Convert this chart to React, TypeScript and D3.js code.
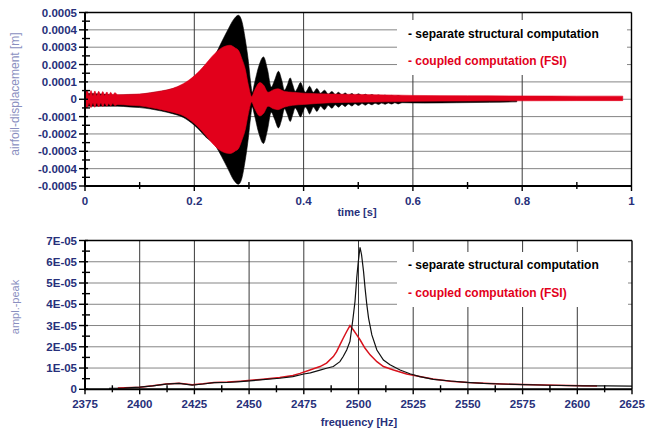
import React from "react";
import * as d3 from "d3";

// ---------- top panel: airfoil displacement envelope (values in 1e-5 m) ----------
const redTime = [0, 0.004, 0.0075, 0.011, 0.0145, 0.018, 0.0215, 0.025, 0.029, 0.0325, 0.036, 0.04, 0.0435, 0.047, 0.051, 0.0545, 0.06, 0.08, 0.10, 0.12, 0.14, 0.16, 0.18, 0.19, 0.20, 0.21, 0.22, 0.232, 0.25, 0.2655, 0.275, 0.2807, 0.287, 0.293, 0.299, 0.305, 0.31, 0.32, 0.327, 0.335, 0.345, 0.353, 0.365, 0.38, 0.40, 0.45, 0.5, 0.55, 0.6, 0.7, 0.8, 0.9, 0.984];
const redUpper = [4.2, 5.2, 2.0, 5.0, 2.0, 4.8, 2.0, 4.6, 2.1, 4.4, 2.2, 4.2, 2.3, 4.0, 2.4, 3.8, 2.6, 2.8, 3.0, 3.8, 4.8, 6.2, 9, 11, 13.5, 16.5, 20, 24.5, 29.6, 31.1, 29.5, 28.2, 23.4, 17.7, 8, 1.5, 5, 9.6, 8, 4, 5.5, 6, 4.5, 4, 3.5, 3, 2.8, 2.5, 2.2, 2.0, 1.9, 1.8, 1.8];
const redLower = [-4.4, -5.0, -2.1, -4.8, -2.1, -4.6, -2.1, -4.4, -2.2, -4.2, -2.3, -4.0, -2.4, -3.8, -2.5, -3.6, -3.0, -3.4, -3.8, -4.8, -6.0, -7.5, -9.5, -11.5, -14, -17, -20.5, -25, -30, -31.3, -29.8, -28.5, -23.6, -17.9, -8.2, -1.6, -5, -9.6, -8, -4, -5.5, -6, -4.5, -3.5, -3, -2, -1.7, -1.5, -1.2, -1.0, -0.9, -0.8, -0.8];

const blackTime = [0, 0.03, 0.06, 0.08, 0.10, 0.12, 0.14, 0.16, 0.18, 0.19, 0.20, 0.21, 0.22, 0.238, 0.25, 0.2625, 0.272, 0.2807, 0.287, 0.293, 0.299, 0.303, 0.306, 0.31, 0.318, 0.3266, 0.334, 0.3407, 0.347, 0.354, 0.36, 0.365, 0.37, 0.3755, 0.38, 0.3846, 0.389, 0.3944, 0.399, 0.403, 0.407, 0.4108, 0.418, 0.4243, 0.431, 0.4383, 0.445, 0.4518, 0.458, 0.4639, 0.470, 0.4762, 0.482, 0.4884, 0.494, 0.5005, 0.507, 0.5128, 0.519, 0.525, 0.531, 0.537, 0.543, 0.549, 0.555, 0.561, 0.567, 0.573, 0.58, 0.62, 0.68, 0.74, 0.79];
const blackUpper = [3.5, 3.0, 2.4, 2.6, 2.8, 3.6, 4.6, 6.0, 8.5, 10.5, 13, 16, 19.5, 25.5, 33, 40.7, 46, 48.4, 45, 35, 21.7, 10, 4, 9, 19, 24.4, 17, 7, 11, 16.1, 11, 5.2, 8, 12.3, 8.5, 4.5, 6.5, 9.6, 6.5, 4, 5.5, 7.5, 4, 6.2, 3.5, 5.2, 3, 4.5, 2.7, 4, 2.5, 3.6, 2.3, 3.3, 2.2, 3.1, 2.1, 2.9, 2.0, 2.7, 1.9, 2.5, 1.8, 2.4, 1.7, 2.2, 1.6, 2.1, 1.6, 1.5, 1.3, 1.2, 1.0];
const blackLower = [-4.0, -4.0, -4.0, -4.4, -4.8, -5.6, -6.8, -8.3, -10.5, -12.5, -15, -18, -21.5, -26.5, -33, -40.7, -46.5, -49, -45.5, -35.5, -22, -10.5, -4.5, -9, -19.5, -25.5, -17.5, -7.5, -11.5, -16.5, -11.5, -5.5, -8.5, -12.8, -9, -5, -7, -10.2, -7, -4.5, -6, -8.5, -4.5, -7, -4, -6, -3.5, -5.2, -3.2, -4.6, -3, -4.2, -2.8, -3.9, -2.6, -3.6, -2.5, -3.4, -2.4, -3.2, -2.3, -3.0, -2.2, -2.9, -2.1, -2.8, -2.0, -2.7, -2.0, -2.2, -2.0, -1.8, -1.5];

const topYTicks = [50, 40, 30, 20, 10, 0, -10, -20, -30, -40, -50];
const topYLabels = ["0.0005", "0.0004", "0.0003", "0.0002", "0.0001", "0", "-0.0001", "-0.0002", "-0.0003", "-0.0004", "-0.0005"];
const topXTicks = [0, 0.2, 0.4, 0.6, 0.8, 1];
const topXLabels = ["0", "0.2", "0.4", "0.6", "0.8", "1"];
const topXMinor = [0.1, 0.3, 0.5, 0.7, 0.9];

// ---------- bottom panel: amplitude spectrum (values in 1e-5) ----------
const blackFreq = [2386, 2393, 2400, 2406, 2412, 2418, 2424, 2429, 2434, 2440, 2446, 2455, 2464, 2470, 2475, 2478, 2482.4, 2485.4, 2488.5, 2491.5, 2493, 2494.6, 2496.1, 2497.5, 2498.4, 2499.2, 2499.9, 2500.7, 2501.4, 2502.3, 2503, 2503.8, 2504.6, 2506.1, 2508.4, 2511.4, 2514.4, 2519, 2523.5, 2528, 2534.2, 2542, 2549.4, 2557, 2564.7, 2575.3, 2587.5, 2602.7, 2614, 2625];
const blackAmp = [0.05, 0.06, 0.1, 0.16, 0.24, 0.28, 0.2, 0.25, 0.31, 0.32, 0.36, 0.44, 0.52, 0.6, 0.72, 0.77, 0.9, 0.99, 1.07, 1.3, 1.54, 1.85, 2.25, 3.35, 4.13, 5.24, 6.0, 6.68, 6.33, 5.55, 4.76, 3.98, 3.35, 2.56, 1.85, 1.38, 1.15, 0.91, 0.73, 0.6, 0.47, 0.39, 0.33, 0.28, 0.25, 0.22, 0.19, 0.16, 0.16, 0.15];
const redFreq = [2390, 2400, 2406, 2412, 2418, 2424, 2429, 2434, 2440, 2446, 2455, 2464, 2470, 2473.3, 2477.8, 2482.4, 2485.4, 2488.5, 2490, 2491.5, 2493, 2494.6, 2496.1, 2497.6, 2499.2, 2500.7, 2503, 2505.3, 2508.4, 2511.4, 2516, 2522, 2528, 2534, 2542, 2550, 2560, 2575, 2590, 2609];
const redAmp = [0.06, 0.1, 0.17, 0.25, 0.29, 0.22, 0.26, 0.32, 0.34, 0.38, 0.46, 0.55, 0.65, 0.75, 0.91, 1.07, 1.23, 1.54, 1.77, 2.09, 2.4, 2.72, 3.0, 2.8, 2.56, 2.33, 1.93, 1.62, 1.3, 1.07, 0.91, 0.72, 0.6, 0.48, 0.38, 0.32, 0.27, 0.22, 0.19, 0.15];

const botYTicks = [7, 6, 5, 4, 3, 2, 1, 0];
const botYLabels = ["7E-05", "6E-05", "5E-05", "4E-05", "3E-05", "2E-05", "1E-05", "0"];
const botXTicks = [2375, 2400, 2425, 2450, 2475, 2500, 2525, 2550, 2575, 2600, 2625];
const botXLabels = botXTicks.map(String);

const legendLabels = ["- separate structural computation", "- coupled computation (FSI)"];

const NAVY = "#27307a";
const TITLE = "#8a8fbf";
const RED = "#e2001b";
const GRID = "#858585";
const VGRID = "#3a3a3a";
const TICKFONT = "'Liberation Sans', Arial, sans-serif";

export default function App() {
  // top panel geometry
  const T = { x0: 85, x1: 631.5, y0: 12.5, y1: 186 };
  const tx = d3.scaleLinear().domain([0, 1]).range([T.x0, T.x1]);
  const ty = d3.scaleLinear().domain([50, -50]).range([T.y0, T.y1]);

  // bottom panel geometry
  const B = { x0: 85, x1: 632, y0: 240.5, y1: 389.3 };
  const bx = d3.scaleLinear().domain([2375, 2625]).range([B.x0, B.x1]);
  const by = d3.scaleLinear().domain([0, 7]).range([B.y1, B.y0]);

  const envelope = (time: number[], up: number[], lo: number[]) =>
    d3.area<number>()
      .curve(d3.curveMonotoneX)
      .x((i) => tx(time[i]))
      .y0((i) => ty(lo[i]))
      .y1((i) => ty(up[i]))(d3.range(time.length)) || "";

  const spectrum = (f: number[], a: number[]) =>
    d3.line<number>()
      .x((i) => bx(f[i]))
      .y((i) => by(a[i]))(d3.range(f.length)) || "";

  const topYMinor = d3.range(-45, 50, 10);
  const botYMinor = d3.range(0.5, 7, 1);
  const botXMinor = d3.range(2387.5, 2625, 25);

  return (
    <svg width={656} height={436} style={{ position: "absolute", left: 0, top: 0, background: "#fff" }}>
      <rect x={0} y={0} width={656} height={436} fill="#fff" />

      {/* ===== TOP PANEL ===== */}
      {topYTicks.map((v) => (
        <line key={"tg" + v} x1={T.x0} x2={T.x1} y1={ty(v)} y2={ty(v)} stroke={GRID} strokeWidth={1} />
      ))}
      {topXTicks.slice(1, -1).map((v) => (
        <line key={"tv" + v} x1={tx(v)} x2={tx(v)} y1={T.y0} y2={T.y1} stroke={VGRID} strokeWidth={1} />
      ))}
      <path d={envelope(blackTime, blackUpper, blackLower)} fill="#000" stroke="#000" strokeWidth={0.6} />
      <path d={envelope(redTime, redUpper, redLower)} fill={RED} stroke={RED} strokeWidth={0.6} />
      <rect x={397} y={20} width={230} height={55} fill="#fff" />
      <text x={408} y={37.5} fontFamily={TICKFONT} fontWeight="bold" fontSize={12} fill="#000">{legendLabels[0]}</text>
      <text x={408} y={65} fontFamily={TICKFONT} fontWeight="bold" fontSize={12} fill={RED}>{legendLabels[1]}</text>

      <line x1={T.x0} x2={T.x1} y1={T.y0} y2={T.y0} stroke="#000" strokeWidth={1.6} />
      <line x1={T.x1} x2={T.x1} y1={T.y0} y2={T.y1} stroke="#000" strokeWidth={1.4} />
      <line x1={T.x0} x2={T.x0} y1={T.y0} y2={T.y1 + 1} stroke="#000" strokeWidth={2} />
      <line x1={T.x0 - 1} x2={T.x1} y1={T.y1} y2={T.y1} stroke="#000" strokeWidth={2} />
      {topYTicks.map((v) => (
        <line key={"tyt" + v} x1={T.x0 - 6} x2={T.x0 + 3} y1={ty(v)} y2={ty(v)} stroke="#000" strokeWidth={1.4} />
      ))}
      {topYMinor.map((v) => (
        <line key={"tym" + v} x1={T.x0 - 3} x2={T.x0 + 5} y1={ty(v)} y2={ty(v)} stroke="#000" strokeWidth={1.4} />
      ))}
      {topXTicks.map((v) => (
        <line key={"txt" + v} x1={tx(v)} x2={tx(v)} y1={T.y1} y2={T.y1 + 5} stroke="#000" strokeWidth={1.4} />
      ))}
      {topXMinor.map((v) => (
        <line key={"txm" + v} x1={tx(v)} x2={tx(v)} y1={T.y1 - 4} y2={T.y1 + 3} stroke="#000" strokeWidth={1.4} />
      ))}
      {topYTicks.map((v, i) => (
        <text key={"tyl" + v} x={T.x0 - 8} y={ty(v) + 4} textAnchor="end" fontFamily={TICKFONT} fontWeight="bold" fontSize={11.5} fill={NAVY}>{topYLabels[i]}</text>
      ))}
      {topXTicks.map((v, i) => (
        <text key={"txl" + v} x={tx(v)} y={205} textAnchor="middle" fontFamily={TICKFONT} fontWeight="bold" fontSize={11.5} fill={NAVY}>{topXLabels[i]}</text>
      ))}
      <text x={357} y={216} textAnchor="middle" fontFamily={TICKFONT} fontWeight="bold" fontSize={11} fill={NAVY}>time [s]</text>
      <text transform="translate(19,94) rotate(-90)" textAnchor="middle" fontFamily={TICKFONT} fontSize={12} fill={TITLE}>airfoil-displacement [m]</text>

      {/* ===== BOTTOM PANEL ===== */}
      {botYTicks.map((v) => (
        <line key={"bg" + v} x1={B.x0} x2={B.x1} y1={by(v)} y2={by(v)} stroke={GRID} strokeWidth={1} />
      ))}
      {botXTicks.slice(1, -1).map((v) => (
        <line key={"bv" + v} x1={bx(v)} x2={bx(v)} y1={B.y0} y2={B.y1} stroke={VGRID} strokeWidth={1} />
      ))}
      <rect x={397} y={252} width={231} height={55} fill="#fff" />
      <text x={408} y={269} fontFamily={TICKFONT} fontWeight="bold" fontSize={12} fill="#000">{legendLabels[0]}</text>
      <text x={408} y={297} fontFamily={TICKFONT} fontWeight="bold" fontSize={12} fill={RED}>{legendLabels[1]}</text>
      <path d={spectrum(redFreq, redAmp)} fill="none" stroke="#d8121c" strokeWidth={1.5} />
      <path d={spectrum(blackFreq, blackAmp)} fill="none" stroke="#111" strokeWidth={1.2} />

      <line x1={B.x0} x2={B.x1} y1={B.y0} y2={B.y0} stroke="#000" strokeWidth={1.6} />
      <line x1={B.x1} x2={B.x1} y1={B.y0} y2={B.y1} stroke="#000" strokeWidth={1.4} />
      <line x1={B.x0} x2={B.x0} y1={B.y0} y2={B.y1 + 1} stroke="#000" strokeWidth={2} />
      <line x1={B.x0 - 1} x2={B.x1} y1={B.y1} y2={B.y1} stroke="#000" strokeWidth={2} />
      {botYTicks.map((v) => (
        <line key={"byt" + v} x1={B.x0 - 6} x2={B.x0 + 3} y1={by(v)} y2={by(v)} stroke="#000" strokeWidth={1.4} />
      ))}
      {botYMinor.map((v) => (
        <line key={"bym" + v} x1={B.x0 - 3} x2={B.x0 + 5} y1={by(v)} y2={by(v)} stroke="#000" strokeWidth={1.4} />
      ))}
      {botXTicks.map((v) => (
        <line key={"bxt" + v} x1={bx(v)} x2={bx(v)} y1={B.y1} y2={B.y1 + 5} stroke="#000" strokeWidth={1.4} />
      ))}
      {botXMinor.map((v) => (
        <line key={"bxm" + v} x1={bx(v)} x2={bx(v)} y1={B.y1 - 4} y2={B.y1 + 3} stroke="#000" strokeWidth={1.4} />
      ))}
      {botYTicks.map((v, i) => (
        <text key={"byl" + v} x={B.x0 - 8} y={by(v) + 4} textAnchor="end" fontFamily={TICKFONT} fontWeight="bold" fontSize={11.5} fill={NAVY}>{botYLabels[i]}</text>
      ))}
      {botXTicks.map((v, i) => (
        <text key={"bxl" + v} x={bx(v)} y={407.5} textAnchor="middle" fontFamily={TICKFONT} fontWeight="bold" fontSize={11.5} fill={NAVY}>{botXLabels[i]}</text>
      ))}
      <text x={359} y={425.5} textAnchor="middle" fontFamily={TICKFONT} fontWeight="bold" fontSize={11} fill={NAVY}>frequency [Hz]</text>
      <text transform="translate(19,307) rotate(-90)" textAnchor="middle" fontFamily={TICKFONT} fontSize={11} fill={TITLE}>ampl.-peak</text>
    </svg>
  );
}
